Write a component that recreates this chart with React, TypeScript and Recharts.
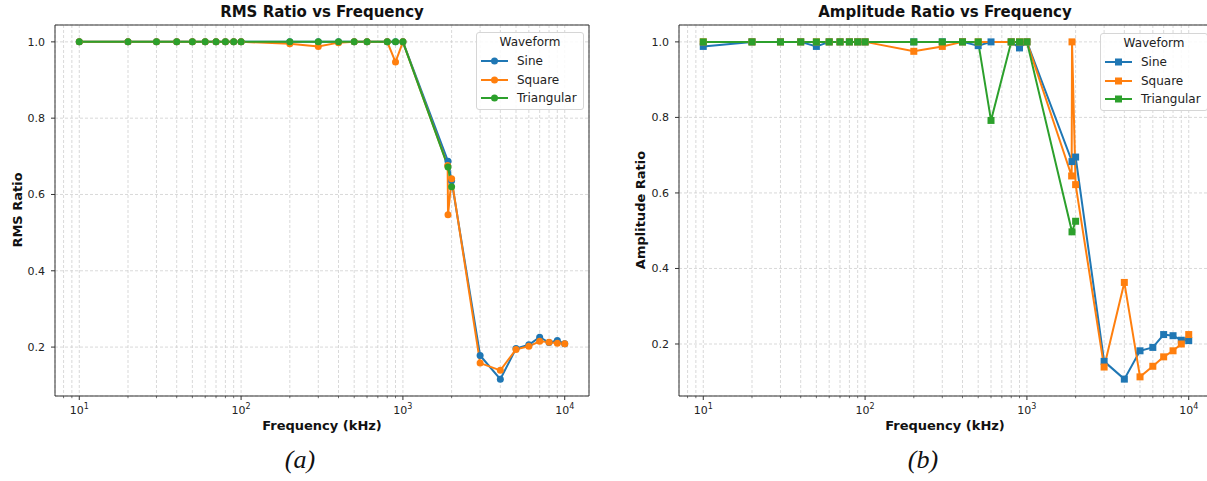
import React from 'react';
import { LineChart, Line, XAxis, YAxis, CartesianGrid, ReferenceLine } from 'recharts';

const SINE = '#1f77b4';
const SQUARE = '#ff7f0e';
const TRI = '#2ca02c';

const FREQ_LOW = [10, 20, 30, 40, 50, 60, 70, 80, 90, 100, 200, 300, 400, 500, 600, 800, 900, 1000];
const FREQ_LOW_NO600 = [10, 20, 30, 40, 50, 60, 70, 80, 90, 100, 200, 300, 400, 500, 800, 900, 1000];
const FREQ_HIGH = [3000, 4000, 5000, 6000, 7000, 8000, 9000, 10000];

const X_TICKS = [8, 9, 10, 20, 30, 40, 50, 60, 70, 80, 90, 100, 200, 300, 400, 500, 600, 700, 800, 900,
  1000, 2000, 3000, 4000, 5000, 6000, 7000, 8000, 9000, 10000];
const Y_TICKS = [0.2, 0.4, 0.6, 0.8, 1.0];

// (a) RMS ratio
const rmsSineFreq = [...FREQ_LOW, 1900, 2000, ...FREQ_HIGH];
const rmsSine = [1, 1, 1, 1, 1, 1, 1, 1, 1, 1, 1, 1, 1, 1, 1, 1, 1, 1,
  0.687, 0.636,
  0.178, 0.116, 0.196, 0.206, 0.226, 0.212, 0.217, 0.209];
const rmsSquareFreq = [...FREQ_LOW, 1890, 1900, 2000, ...FREQ_HIGH];
const rmsSquare = [1, 1, 1, 1, 1, 1, 1, 1, 1, 1, 0.995, 0.988, 0.998, 1, 1, 1, 0.947, 1,
  0.676, 0.547, 0.641,
  0.158, 0.139, 0.194, 0.202, 0.215, 0.213, 0.21, 0.209];
const rmsTriFreq = [...FREQ_LOW, 1900, 2000];
const rmsTri = [1, 1, 1, 1, 1, 1, 1, 1, 1, 1, 1, 1, 1, 1, 1, 1, 1, 1,
  0.672, 0.62];

// (b) amplitude ratio
const ampSineFreq = [...FREQ_LOW, 1900, 2000, ...FREQ_HIGH];
const ampSine = [0.988, 1, 1, 1, 0.988, 1, 1, 1, 1, 1, 1, 1, 1, 0.99, 1, 1, 0.984, 1,
  0.683, 0.695,
  0.154, 0.107, 0.182, 0.191, 0.225, 0.222, 0.21, 0.209];
const ampSquareFreq = [...FREQ_LOW_NO600, 1890, 1900, 2000, ...FREQ_HIGH];
const ampSquare = [1, 1, 1, 1, 1, 1, 1, 1, 1, 1, 0.975, 0.988, 1, 1, 1, 1, 1,
  0.645, 1, 0.622,
  0.139, 0.363, 0.113, 0.141, 0.166, 0.182, 0.2, 0.225];
const ampTriFreq = [...FREQ_LOW, 1900, 2000];
const ampTri = [1, 1, 1, 1, 1, 1, 1, 1, 1, 1, 1, 1, 1, 1, 0.792, 1, 1, 1,
  0.497, 0.525];

const toPoints = (freqs: number[], vals: number[]) => freqs.map((f, i) => ({ f, v: vals[i] }));

const XTick = (props: any) => {
  const { x, y, payload } = props;
  const exp = Math.log10(payload.value);
  const major = Math.abs(exp - Math.round(exp)) < 1e-9;
  return (
    <g>
      <line x1={x} x2={x} y1={y} y2={y + (major ? 4 : 2.2)} stroke="#333" strokeWidth={major ? 1 : 0.7} />
      {major && (
        <text x={x} y={y + 18} textAnchor="middle" fontSize={11} fill="#222">
          <tspan>10</tspan>
          <tspan dy={-5} fontSize={8}>{Math.round(exp)}</tspan>
        </text>
      )}
    </g>
  );
};

const squareDot = (color: string) => (p: any) => (
  <rect key={`sq-${p.index}`} x={p.cx - 3.5} y={p.cy - 3.5} width={7} height={7} fill={color} />
);

interface PanelProps {
  left: number;
  width: number;
  yAxisWidth: number;
  yMin: number;
  yMax: number;
  series: { name: string; color: string; data: { f: number; v: number }[] }[];
  square?: boolean;
}

const XMIN = Math.pow(10, 0.85);
const XMAX = Math.pow(10, 4.15);

function Panel({ left, width, yAxisWidth, yMin, yMax, series, square }: PanelProps) {
  return (
    <div style={{ position: 'absolute', left, top: 0 }}>
      <LineChart width={width} height={481} margin={{ top: 25, right: width - 589 - (yAxisWidth - 55), bottom: 55, left: 0 }}>
        <CartesianGrid stroke="#cfcfcf" strokeDasharray="3 2" strokeWidth={0.8} />
        <XAxis
          dataKey="f"
          type="number"
          scale="log"
          domain={[XMIN, XMAX]}
          allowDataOverflow
          ticks={X_TICKS}
          interval={0}
          tick={<XTick />}
          tickSize={0}
          tickMargin={0}
          height={30}
          stroke="#333"
        />
        <YAxis
          type="number"
          domain={[yMin, yMax]}
          allowDataOverflow
          ticks={Y_TICKS}
          tickFormatter={(v: number) => v.toFixed(1)}
          width={yAxisWidth}
          tickSize={4}
          tickMargin={6}
          tick={{ fontSize: 11, fill: '#222' }}
          stroke="#333"
        />
        <ReferenceLine y={yMax} stroke="#333" strokeWidth={1} />
        <ReferenceLine x={XMAX} stroke="#333" strokeWidth={1} />
        {series.map((s) => (
          <Line
            key={s.name}
            data={s.data}
            dataKey="v"
            name={s.name}
            stroke={s.color}
            strokeWidth={2}
            dot={square ? squareDot(s.color) : { r: 3.5, fill: s.color, stroke: s.color, strokeWidth: 0 }}
            activeDot={false}
            isAnimationActive={false}
          />
        ))}
      </LineChart>
    </div>
  );
}

function LegendBox({ left, top, square }: { left: number; top: number; square?: boolean }) {
  const items = [
    { name: 'Sine', color: SINE },
    { name: 'Square', color: SQUARE },
    { name: 'Triangular', color: TRI },
  ];
  return (
    <div
      style={{
        position: 'absolute', left, top, width: 106, height: 76,
        border: '1px solid #d6d6d6', borderRadius: 3, background: 'rgba(255,255,255,0.85)',
        fontSize: 12, color: '#222',
      }}
    >
      <div style={{ position: 'absolute', left: 0, width: 106, top: 2, textAlign: 'center' }}>Waveform</div>
      {items.map((it, i) => (
        <div key={it.name} style={{ position: 'absolute', left: 4, top: 20 + i * 18.5, height: 16, display: 'flex', alignItems: 'center' }}>
          <svg width={28} height={16}>
            <line x1={0} x2={27} y1={8} y2={8} stroke={it.color} strokeWidth={2} />
            {square ? <rect x={10} y={4.5} width={7} height={7} fill={it.color} /> : <circle cx={13.5} cy={8} r={3.5} fill={it.color} />}
          </svg>
          <span style={{ marginLeft: 8 }}>{it.name}</span>
        </div>
      ))}
    </div>
  );
}

const titleStyle: React.CSSProperties = {
  position: 'absolute', top: 3, fontSize: 15, fontWeight: 'bold', color: '#111',
  textAlign: 'center', whiteSpace: 'nowrap', transform: 'translateX(-50%)',
};
const xLabelStyle: React.CSSProperties = {
  position: 'absolute', top: 418, fontSize: 13, fontWeight: 'bold', color: '#111',
  whiteSpace: 'nowrap', transform: 'translateX(-50%)',
};
const yLabelStyle: React.CSSProperties = {
  position: 'absolute', top: 210, fontSize: 13, fontWeight: 'bold', color: '#111',
  whiteSpace: 'nowrap', transform: 'translate(-50%, -50%) rotate(-90deg)',
};
const captionStyle: React.CSSProperties = {
  position: 'absolute', top: 445, fontSize: 26, fontStyle: 'italic', color: '#111',
  fontFamily: '"Liberation Serif", "DejaVu Serif", serif', transform: 'translateX(-50%)',
};

export default function App() {
  return (
    <div
      style={{
        position: 'absolute', left: 0, top: 0, width: 1207, height: 481, overflow: 'hidden',
        background: '#fff', fontFamily: '"DejaVu Sans", sans-serif',
      }}
    >
      <Panel
        left={0}
        width={600}
        yAxisWidth={55}
        yMin={0.0718}
        yMax={1.0442}
        series={[
          { name: 'Sine', color: SINE, data: toPoints(rmsSineFreq, rmsSine) },
          { name: 'Square', color: SQUARE, data: toPoints(rmsSquareFreq, rmsSquare) },
          { name: 'Triangular', color: TRI, data: toPoints(rmsTriFreq, rmsTri) },
        ]}
      />
      <Panel
        left={600}
        width={620}
        yAxisWidth={79}
        yMin={0.0623}
        yMax={1.0447}
        square
        series={[
          { name: 'Sine', color: SINE, data: toPoints(ampSineFreq, ampSine) },
          { name: 'Square', color: SQUARE, data: toPoints(ampSquareFreq, ampSquare) },
          { name: 'Triangular', color: TRI, data: toPoints(ampTriFreq, ampTri) },
        ]}
      />
      <LegendBox left={476} top={32} />
      <LegendBox left={1100} top={33} square />

      <div style={{ ...titleStyle, left: 322 }}>RMS Ratio vs Frequency</div>
      <div style={{ ...titleStyle, left: 945 }}>Amplitude Ratio vs Frequency</div>
      <div style={{ ...xLabelStyle, left: 322 }}>Frequency (kHz)</div>
      <div style={{ ...xLabelStyle, left: 945 }}>Frequency (kHz)</div>
      <div style={{ ...yLabelStyle, left: 17 }}>RMS Ratio</div>
      <div style={{ ...yLabelStyle, left: 640 }}>Amplitude Ratio</div>
      <div style={{ ...captionStyle, left: 300 }}>(a)</div>
      <div style={{ ...captionStyle, left: 923 }}>(b)</div>
    </div>
  );
}
